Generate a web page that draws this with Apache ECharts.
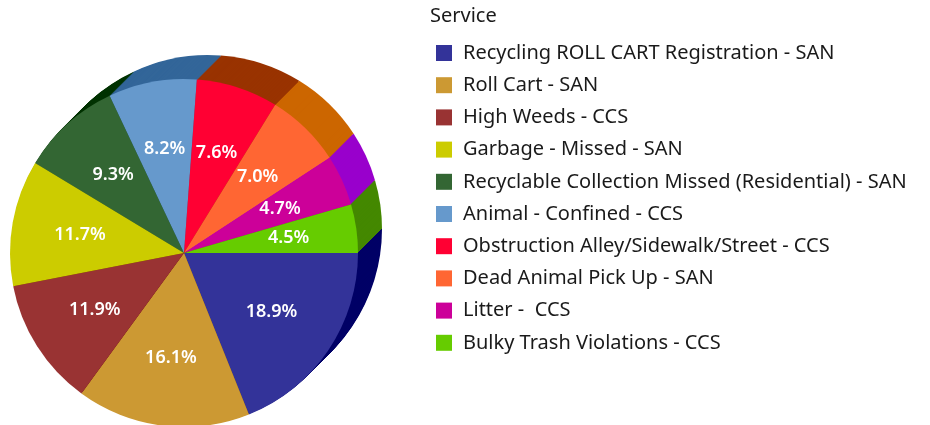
<!DOCTYPE html>
<html>
<head>
<meta charset="utf-8">
<script src="https://cdn.jsdelivr.net/npm/echarts@6/dist/echarts.min.js"></script>
<style>
html,body{margin:0;padding:0;background:#fff;}
#chart{width:930px;height:425px;}
</style>
</head>
<body>
<div id="chart"></div>
<script>
const categories = [
  'Recycling ROLL CART Registration - SAN',
  'Roll Cart - SAN',
  'High Weeds - CCS',
  'Garbage - Missed - SAN',
  'Recyclable Collection Missed (Residential) - SAN',
  'Animal - Confined - CCS',
  'Obstruction Alley/Sidewalk/Street - CCS',
  'Dead Animal Pick Up - SAN',
  'Litter -  CCS',
  'Bulky Trash Violations - CCS'
];
const percentValues = [18.9, 16.1, 11.9, 11.7, 9.3, 8.2, 7.6, 7.0, 4.7, 4.5];
const topColors = ['#333399', '#CC9933', '#993333', '#CCCC00', '#336633', '#6699CC', '#FF0033', '#FF6633', '#CC0099', '#66CC00'];
const sideColors = ['#000066', '#996600', '#660000', '#999900', '#003300', '#336699', '#993300', '#CC6600', '#9900CC', '#448800'];
const legendTitle = 'Service';

const cx = 184, cy = 253, R = 174, depth = 24;
const FONT = '"Noto Sans", "Open Sans", sans-serif';

const series = [];
for (let k = depth; k >= 1; k--) {
  series.push({
    type: 'pie',
    silent: true,
    startAngle: 0,
    clockwise: true,
    center: [cx + k, cy - k],
    radius: [0, R],
    label: { show: false },
    labelLine: { show: false },
    itemStyle: { borderWidth: 0 },
    animation: false,
    data: percentValues.map((v, i) => ({ value: v, itemStyle: { color: sideColors[i] } }))
  });
}
series.push({
  type: 'pie',
  name: 'Service',
  startAngle: 0,
  clockwise: true,
  center: [cx, cy],
  radius: [0, R],
  label: { show: false },
  labelLine: { show: false },
  itemStyle: { borderWidth: 0 },
  emphasis: { disabled: true },
  animation: false,
  data: categories.map((c, i) => ({ name: c, value: percentValues[i], itemStyle: { color: topColors[i] } }))
});
series.push({
  type: 'pie',
  silent: true,
  startAngle: 0,
  clockwise: true,
  center: [cx, cy],
  radius: [R * 0.18, R],
  avoidLabelOverlap: false,
  labelLine: { show: false },
  itemStyle: { color: 'rgba(0,0,0,0)', borderWidth: 0 },
  label: {
    show: true,
    position: 'inside',
    color: '#fff',
    fontFamily: FONT,
    fontSize: 18,
    fontWeight: 600,
    formatter: p => p.value.toFixed(1) + '%'
  },
  animation: false,
  data: percentValues.map(v => ({ value: v }))
});

const chart = echarts.init(document.getElementById('chart'), null, { renderer: 'canvas' });
chart.setOption({
  backgroundColor: '#fff',
  animation: false,
  title: {
    text: legendTitle,
    left: 425,
    top: 1,
    textStyle: { fontFamily: FONT, fontSize: 20, fontWeight: 'normal', color: '#1a1a1a' }
  },
  legend: {
    orient: 'vertical',
    left: 431,
    top: 38,
    icon: 'rect',
    itemWidth: 16,
    itemHeight: 16,
    itemGap: 12.2,
    data: categories,
    textStyle: { fontFamily: FONT, fontSize: 20, color: '#1a1a1a', lineHeight: 20, padding: [0, 0, 0, 6] },
    selectedMode: false
  },
  series: series
});
</script>
</body>
</html>
